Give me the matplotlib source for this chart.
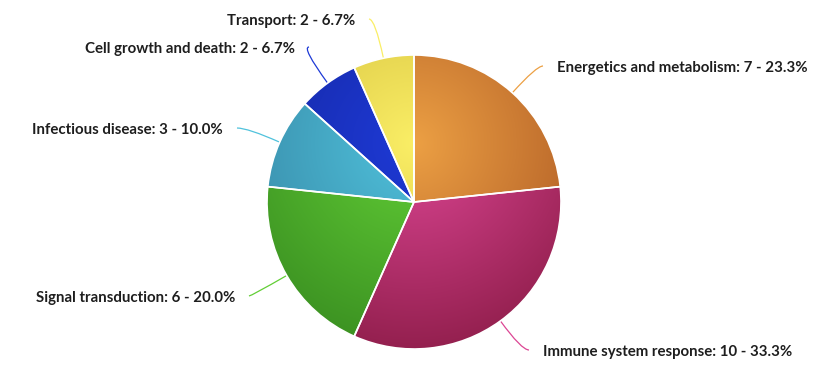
import numpy as np
import matplotlib
matplotlib.use('Agg')
import matplotlib.pyplot as plt
from matplotlib.path import Path
from matplotlib.patches import PathPatch
from matplotlib.colors import to_rgb

W, H = 823, 365

categories = ['Energetics and metabolism', 'Immune system response', 'Signal transduction',
              'Infectious disease', 'Cell growth and death', 'Transport']
counts = [7, 10, 6, 3, 2, 2]

# light centre colour and dark rim colour for each slice
light = ['#eca044', '#dc4694', '#62ce36', '#50c2dc', '#1e3ad6', '#faee66']
dark = ['#ae5a24', '#94204f', '#3c9222', '#3788a6', '#1426a0', '#d2bc3a']

# where each label sits (pixel coords, y down) and which side it hangs off
label_pos = [(557, 68, 'left'), (543, 352, 'left'), (235, 298, 'right'),
             (223, 130, 'right'), (295, 49, 'right'), (355, 21, 'right')]

cx, cy, R = 414, 202, 147
grad_c = (414, 143)
grad_r = 206


def fy(y):
    return H - y


fig = plt.figure(figsize=(W / 100, H / 100), dpi=100)
ax = fig.add_axes([0, 0, 1, 1])
wedges, _ = ax.pie(counts, startangle=90, counterclock=False, center=(cx, fy(cy)),
                   radius=R, colors=light,
                   wedgeprops=dict(edgecolor='white', linewidth=1.2))
ax.set_xlim(0, W)
ax.set_ylim(0, H)
ax.set_aspect('equal')
ax.axis('off')

# radial shading shared by all slices, clipped to each wedge
xs = np.arange(cx - R - 2, cx + R + 3)
ys = np.arange(cy - R - 2, cy + R + 3)
X, Y = np.meshgrid(xs, ys)
t = np.clip(np.hypot(X - grad_c[0], Y - grad_c[1]) / grad_r, 0, 1)[..., None]
ext = (xs[0], xs[-1], fy(ys[-1]), fy(ys[0]))
for w, lc, dc in zip(wedges, light, dark):
    img = np.array(to_rgb(lc)) * (1 - t) + np.array(to_rgb(dc)) * t
    im = ax.imshow(img, extent=ext, origin='upper', zorder=w.get_zorder() + 0.1,
                   interpolation='bilinear')
    im.set_clip_path(w)
    edge = PathPatch(w.get_path(), transform=w.get_transform(), facecolor='none',
                     edgecolor='white', linewidth=1.2, zorder=w.get_zorder() + 0.2)
    ax.add_patch(edge)

total = sum(counts)
start = 0.0
for name, n, lc, (lx, ly, side) in zip(categories, counts, light, label_pos):
    ang = np.deg2rad((start + n / 2) / total * 360)
    start += n
    dx, dy = np.sin(ang), -np.cos(ang)
    x0, y0 = cx + R * dx, cy + R * dy
    ey = ly - 2
    ex = lx - 14 if side == 'left' else lx + 14
    s = (ey - y0) / dy
    kx = x0 + s * dx
    path = Path([(x0, fy(y0)), (kx, fy(ey)), (ex, fy(ey))],
                [Path.MOVETO, Path.CURVE3, Path.CURVE3])
    ax.add_patch(PathPatch(path, facecolor='none', edgecolor=lc, linewidth=0.9, zorder=1))
    txt = '{}: {} - {:.1f}%'.format(name, n, n / total * 100)
    ax.text(lx, fy(ly), txt, ha=side, va='center', fontsize=10.8, fontweight='bold',
            family='Lato', color='#1e1e1e')

fig.savefig('out.png', dpi=100, facecolor='white')
